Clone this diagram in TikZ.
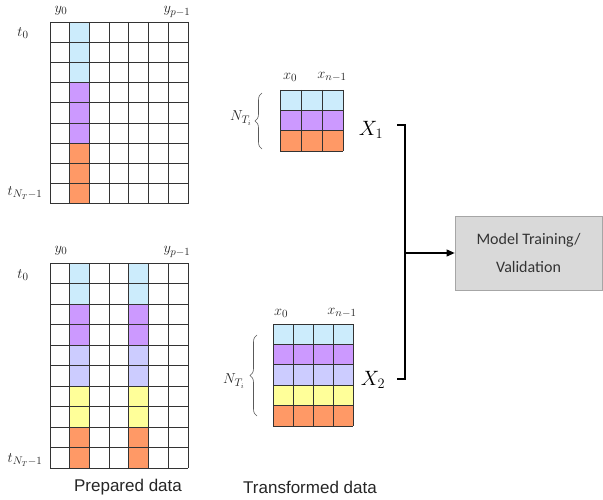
\documentclass[tikz,border=0pt]{standalone}
\usepackage{fontspec}
\newfontfamily\capfont{Liberation Sans}
\newfontfamily\boxfont{Carlito}
\usepackage{tikz}
\usetikzlibrary{positioning,arrows.meta,decorations.pathreplacing}
\definecolor{cblue}{HTML}{CCECFC}
\definecolor{cpurple}{HTML}{CC99FF}
\definecolor{clavender}{HTML}{CCCCFF}
\definecolor{cyellow}{HTML}{FFFF99}
\definecolor{corange}{HTML}{FF9966}

\begin{document}
\begin{tikzpicture}[x=1pt, y=-1pt,
  gridline/.style={black!80, line width=0.7pt},
  lbl/.style={font=\fontsize{15}{17}\selectfont, inner sep=0pt, text=black!85},
  bigx/.style={font=\fontsize{22}{26}\selectfont, inner sep=0pt},
  caption/.style={font=\capfont\fontsize{17}{20}\selectfont, text=black!85},
  curly/.style={decorate, decoration={brace, amplitude=7pt}, black!65, line width=0.6pt},
  modelbox/.style={draw=black!35, fill=black!15, line width=0.8pt, minimum width=147pt,
    minimum height=74pt, align=center, text=black!80,
    font=\boxfont\fontsize{16}{28}\selectfont}]
\useasboundingbox (0,0) rectangle (603,500);

% Prepared data, first sequence (one column filled)
\begin{scope}[shift={(50,22)}, x=19.7pt, y=-20.2pt]
\foreach \r/\col in {0/cblue,1/cblue,2/cblue,3/cpurple,4/cpurple,5/cpurple,6/corange,7/corange,8/corange}
  \fill[\col] (1,\r) rectangle ++(1,1);
\foreach \c in {0,...,7} \draw[gridline] (\c,0) -- (\c,9);
\foreach \r in {0,...,9} \draw[gridline] (0,\r) -- (7,\r);
\end{scope}
\node[lbl] (ya) at (61,11) {$y_0$};
\node[lbl] (yb) at (177,12) {$y_{p-1}$};
\node[lbl] (ta) at (23,33) {$t_0$};
\node[lbl] (tb) at (25,193) {$t_{N_T-1}$};

% Prepared data, second sequence (two columns filled)
\begin{scope}[shift={(50,263)}, x=19.7pt, y=-20.5pt]
\foreach \c in {1,4} {
  \foreach \r/\col in {0/cblue,1/cblue,2/cpurple,3/cpurple,4/clavender,5/clavender,6/cyellow,7/cyellow,8/corange,9/corange}
    \fill[\col] (\c,\r) rectangle ++(1,1);
}
\foreach \c in {0,...,7} \draw[gridline] (\c,0) -- (\c,10);
\foreach \r in {0,...,10} \draw[gridline] (0,\r) -- (7,\r);
\end{scope}
\node[lbl] (yc) at (61,251) {$y_0$};
\node[lbl] (yd) at (177,252) {$y_{p-1}$};
\node[lbl] (tc) at (23,275) {$t_0$};
\node[lbl] (td) at (25,460) {$t_{N_T-1}$};

% Transformed data X_1
\begin{scope}[shift={(280,90)}, x=21pt, y=-20.3pt]
\foreach \r/\col in {0/cblue,1/cpurple,2/corange}
  \fill[\col] (0,\r) rectangle ++(3,1);
\foreach \c in {0,...,3} \draw[gridline] (\c,0) -- (\c,3);
\foreach \r in {0,...,3} \draw[gridline] (0,\r) -- (3,\r);
\end{scope}
\node[lbl] (xa) at (290,77) {$x_0$};
\node[lbl] (xb) at (332,77) {$x_{n-1}$};
\draw[curly] (262,149) -- (262,93);
\node[lbl] (na) at (241,118) {$N_{T_i}$};
\node[bigx] (xone) at (371,130) {$X_1$};

% Transformed data X_2
\begin{scope}[shift={(273,324)}, x=20pt, y=-20.4pt]
\foreach \r/\col in {0/cblue,1/cpurple,2/clavender,3/cyellow,4/corange}
  \fill[\col] (0,\r) rectangle ++(4,1);
\foreach \c in {0,...,4} \draw[gridline] (\c,0) -- (\c,5);
\foreach \r in {0,...,5} \draw[gridline] (0,\r) -- (4,\r);
\end{scope}
\node[lbl] (xc) at (281,313) {$x_0$};
\node[lbl] (xd) at (342,313) {$x_{n-1}$};
\draw[curly] (257,416) -- (257,335);
\node[lbl] (nb) at (234,381) {$N_{T_i}$};
\node[bigx] (xtwo) at (373,380) {$X_2$};

% bracket and model box
\coordinate (btop) at (397,125);
\coordinate (bbot) at (397,379);
\coordinate (bmid) at (405,253);
\node[modelbox] (model) at (528.5,253) {Model Training/\\Validation};
\draw[line width=1.1pt] (btop) -| (bmid) |- (bbot);
\draw[line width=1.1pt, -{Triangle[length=8pt,width=7pt]}] (bmid) -- (model.west);

\node[caption] (prep) at (128,487) {Prepared data};
\node[caption] (trans) at (310,487) {Transformed data};
\end{tikzpicture}
\end{document}
